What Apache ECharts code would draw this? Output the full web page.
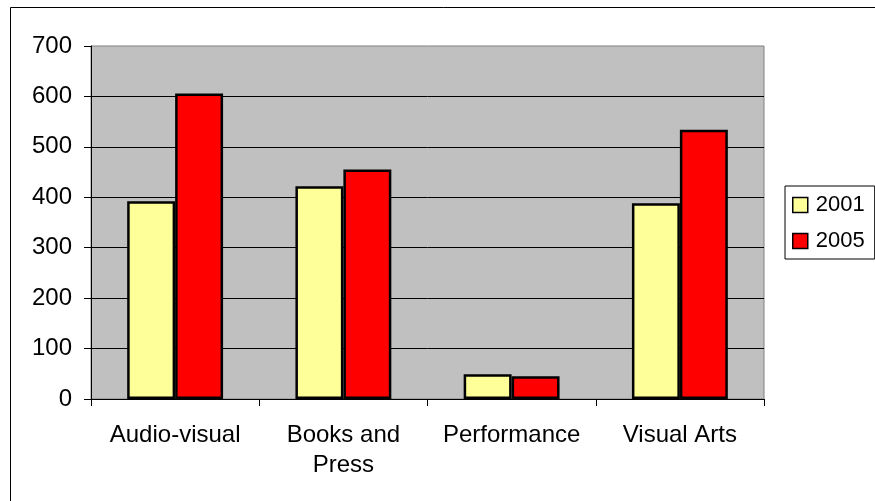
<!DOCTYPE html>
<html>
<head>
<meta charset="utf-8">
<style>
  html, body { margin: 0; padding: 0; background: #ffffff; }
  #chart { width: 875px; height: 501px; }
</style>
<script src="https://cdn.jsdelivr.net/npm/echarts@6/dist/echarts.min.js"></script>
</head>
<body>
<div id="chart"></div>
<script>
// Sector categories and yearly values
const categories = ['Audio-visual', 'Books and\nPress', 'Performance', 'Visual Arts'];
const values2001 = [392, 422, 49, 388];
const values2005 = [606, 455, 45, 534];
const yTicks = [0, 100, 200, 300, 400, 500, 600, 700];

const FONT = '"Liberation Sans", Arial, sans-serif';

const chart = echarts.init(document.getElementById('chart'), null, { renderer: 'canvas' });

chart.setOption({
  animation: false,
  backgroundColor: '#ffffff',
  textStyle: { fontFamily: FONT, color: '#000' },
  graphic: [{
    type: 'rect',
    left: 8, top: 5,
    shape: { width: 875, height: 505 },
    style: { fill: 'none', stroke: '#000', lineWidth: 1 },
    silent: true, z: 100
  }],
  grid: {
    left: 91, top: 46, right: 111, bottom: 102,
    show: true,
    backgroundColor: '#C0C0C0',
    borderColor: '#808080',
    borderWidth: 1
  },
  legend: {
    orient: 'vertical',
    left: 785, top: 186,
    padding: [7, 10, 6, 7],
    backgroundColor: '#fff',
    borderColor: '#000',
    borderWidth: 1,
    itemWidth: 15, itemHeight: 15,
    itemGap: 12,
    icon: 'rect',
    textStyle: { fontFamily: FONT, fontSize: 22, lineHeight: 24, color: '#000', padding: [0, 0, 0, 3] },
    itemStyle: { borderColor: '#000', borderWidth: 1.5 },
    data: ['2001', '2005']
  },
  xAxis: {
    type: 'category',
    data: categories,
    boundaryGap: true,
    axisLine: { lineStyle: { color: '#000', width: 1 } },
    axisTick: { show: true, length: 7, alignWithLabel: false, lineStyle: { color: '#000' } },
    axisLabel: { fontFamily: FONT, fontSize: 24, color: '#000', margin: 21, lineHeight: 30, interval: 0 },
    splitLine: { show: false }
  },
  yAxis: {
    type: 'value',
    min: yTicks[0],
    max: yTicks[yTicks.length - 1],
    interval: 100,
    axisLine: { show: true, lineStyle: { color: '#000', width: 1 } },
    axisTick: { show: true, length: 7, lineStyle: { color: '#000' } },
    axisLabel: { fontFamily: FONT, fontSize: 24, color: '#000', margin: 19 },
    splitLine: { show: true, showMinLine: false, showMaxLine: false, lineStyle: { color: '#000', width: 1 } }
  },
  series: [{
    name: '2001',
    type: 'bar',
    data: values2001,
    barGap: '0%',
    barCategoryGap: '43%',
    itemStyle: { color: '#FFFF99', borderColor: '#000', borderWidth: 2.5 }
  }, {
    name: '2005',
    type: 'bar',
    data: values2005,
    itemStyle: { color: '#FF0000', borderColor: '#000', borderWidth: 2.5 }
  }]
});
</script>
</body>
</html>
